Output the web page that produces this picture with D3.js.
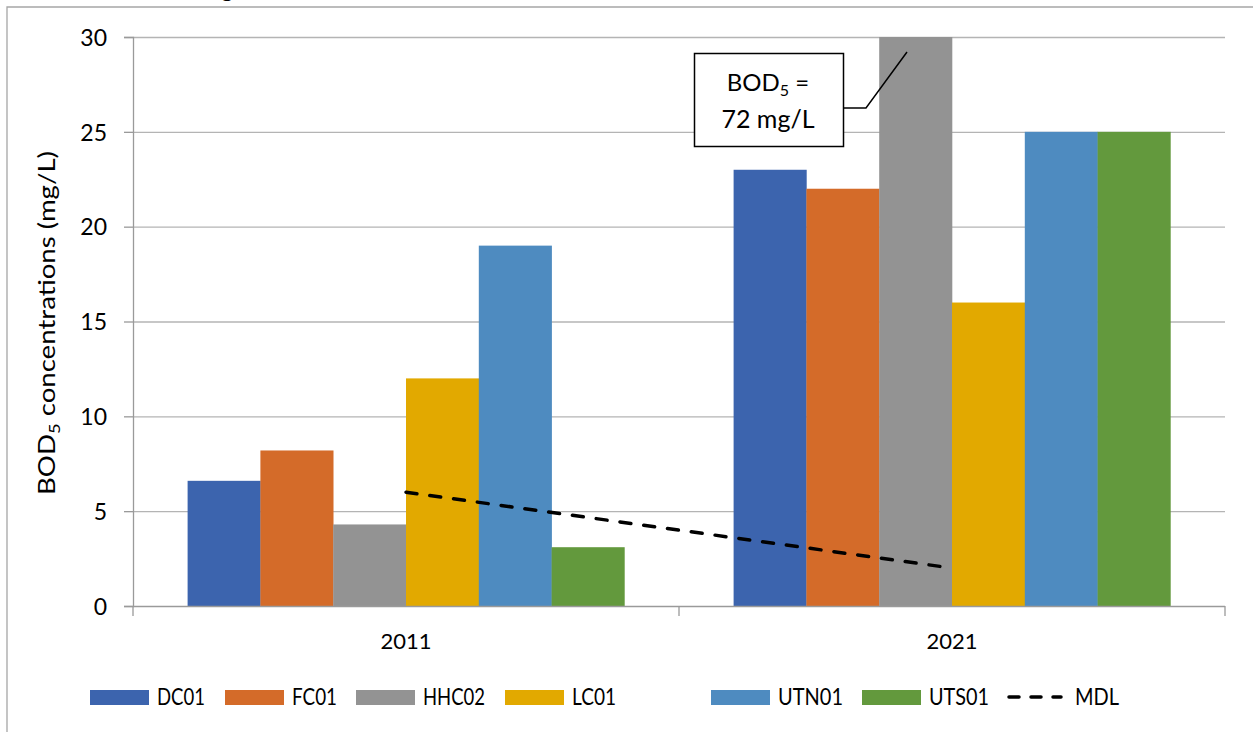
<!DOCTYPE html>
<html><head><meta charset="utf-8">
<script src="https://cdn.jsdelivr.net/npm/d3@7/dist/d3.min.js"></script>
<style>body{margin:0;background:#fff}svg{display:block}text{font-family:Lato,"Open Sans",sans-serif;fill:#000}</style>
</head><body><svg id="c" width="1253" height="732"></svg>
<script>
const categories = ["2011", "2021"];
const seriesNames = ["DC01", "FC01", "HHC02", "LC01", "UTN01", "UTS01"];
const seriesColors = ["#3c64ae", "#d46b29", "#939393", "#e2a900", "#4e8bc0", "#63993d"];
const DC01 = [6.6, 23];
const FC01 = [8.2, 22];
const HHC02 = [4.3, 72];
const LC01 = [12, 16];
const UTN01 = [19, 25];
const UTS01 = [3.1, 25];
const MDL = [6, 2];
const yTicks = [0, 5, 10, 15, 20, 25, 30];
const seriesValues = [DC01, FC01, HHC02, LC01, UTN01, UTS01];

const svg = d3.select("#c");
const L = 133, R = 1225, T = 37, B = 606;
const fs = 23;

// outer chart border
svg.append("path").attr("d", "M7,732 V7 H1253").attr("fill", "none").attr("stroke", "#a6a6a6").attr("stroke-width", 1.3);
// cropped title fragment
svg.append("text").attr("x", 221).attr("y", -3).attr("font-size", 24).text("g");

const y = d3.scaleLinear().domain([0, 30]).range([B, T]).clamp(true);
const x0 = d3.scaleBand().domain(categories).range([L, R]).padding(0);
const x1 = d3.scaleBand().domain(seriesNames).range([0, x0.bandwidth()]).paddingInner(0).paddingOuter(0.75);

// gridlines
svg.append("g").selectAll("line").data(yTicks.filter(t => t > 0)).join("line")
  .attr("x1", L).attr("x2", R).attr("y1", d => y(d) + 0.5).attr("y2", d => y(d) + 0.5)
  .attr("stroke", "#b4b4b4").attr("stroke-width", 1.3);

// bars
const bars = svg.append("g");
seriesNames.forEach((s, i) => {
  bars.selectAll(null).data(categories).join("rect")
    .attr("x", c => x0(c) + x1(s))
    .attr("width", x1.bandwidth() + 0.3)
    .attr("y", (c, j) => y(seriesValues[i][j]))
    .attr("height", (c, j) => B - y(seriesValues[i][j]))
    .attr("fill", seriesColors[i]);
});

// y axis
const yAxis = d3.axisLeft(y).tickValues(yTicks).tickSize(9).tickPadding(17).tickFormat(d3.format("d"));
const ga = svg.append("g").attr("transform", `translate(${L},0)`).call(yAxis);
ga.select(".domain").attr("stroke", "#9a9a9a").attr("stroke-width", 1.3);
ga.selectAll(".tick line").attr("stroke", "#9a9a9a").attr("stroke-width", 1.3);
ga.selectAll(".tick text").attr("font-size", fs).attr("font-family", "Lato").attr("fill", "#000").attr("dy", "0.36em");

// x axis
svg.append("line").attr("x1", L).attr("x2", R).attr("y1", B + 0.5).attr("y2", B + 0.5).attr("stroke", "#9a9a9a").attr("stroke-width", 1.3);
const bounds = [L, ...categories.map(c => x0(c) + x0.bandwidth())];
svg.append("g").selectAll("line").data(bounds).join("line")
  .attr("x1", d => d).attr("x2", d => d).attr("y1", B).attr("y2", B + 10)
  .attr("stroke", "#9a9a9a").attr("stroke-width", 1.3);
svg.append("g").selectAll("text").data(categories).join("text")
  .attr("x", c => x0(c) + x0.bandwidth() / 2).attr("y", 649)
  .attr("text-anchor", "middle").attr("font-size", 22).text(c => c);

// MDL line
const line = d3.line().x((d, i) => x0(categories[i]) + x0.bandwidth() / 2).y(d => y(d));
svg.append("path").datum(MDL).attr("d", line).attr("fill", "none")
  .attr("stroke", "#000").attr("stroke-width", 3.5).attr("stroke-dasharray", "11,13").attr("stroke-linecap", "round");

// y title
const yt = svg.append("text").attr("transform", "translate(55,323) rotate(-90)").attr("text-anchor", "middle").attr("font-size", 24)
  .attr("textLength", 344).attr("lengthAdjust", "spacingAndGlyphs");
yt.append("tspan").text("BOD");
yt.append("tspan").attr("font-size", 16).attr("dy", 5).text("5");
yt.append("tspan").attr("dy", -5).text(" concentrations (mg/L)");

// annotation
svg.append("path").attr("d", "M843,108 H866 L907,52").attr("fill", "none").attr("stroke", "#000").attr("stroke-width", 1.5);
svg.append("rect").attr("x", 694.5).attr("y", 53.5).attr("width", 149).attr("height", 93).attr("fill", "#fff").attr("stroke", "#000").attr("stroke-width", 1.5);
const a1 = svg.append("text").attr("x", 768).attr("y", 91).attr("text-anchor", "middle").attr("font-size", 24);
a1.append("tspan").text("BOD");
a1.append("tspan").attr("font-size", 16).attr("dy", 5).text("5");
a1.append("tspan").attr("dy", -5).text(" =");
svg.append("text").attr("x", 768).attr("y", 128).attr("text-anchor", "middle").attr("font-size", 25).text("72 mg/L");

// legend
const legX = [90, 225, 356, 505, 711, 862];
const legW = [48, 45, 62, 44, 65, 60];
const lg = svg.append("g");
seriesNames.forEach((s, i) => {
  lg.append("rect").attr("x", legX[i]).attr("y", 690).attr("width", 59).attr("height", 15).attr("fill", seriesColors[i]);
  lg.append("text").attr("x", legX[i] + 67).attr("y", 705).attr("font-size", 23)
    .attr("textLength", legW[i]).attr("lengthAdjust", "spacingAndGlyphs").text(s);
});
lg.append("line").attr("x1", 1009).attr("x2", 1061).attr("y1", 697).attr("y2", 697)
  .attr("stroke", "#000").attr("stroke-width", 3.5).attr("stroke-dasharray", "10,12").attr("stroke-linecap", "round");
lg.append("text").attr("x", 1075).attr("y", 705).attr("font-size", 23)
  .attr("textLength", 44).attr("lengthAdjust", "spacingAndGlyphs").text("MDL");
</script></body></html>
